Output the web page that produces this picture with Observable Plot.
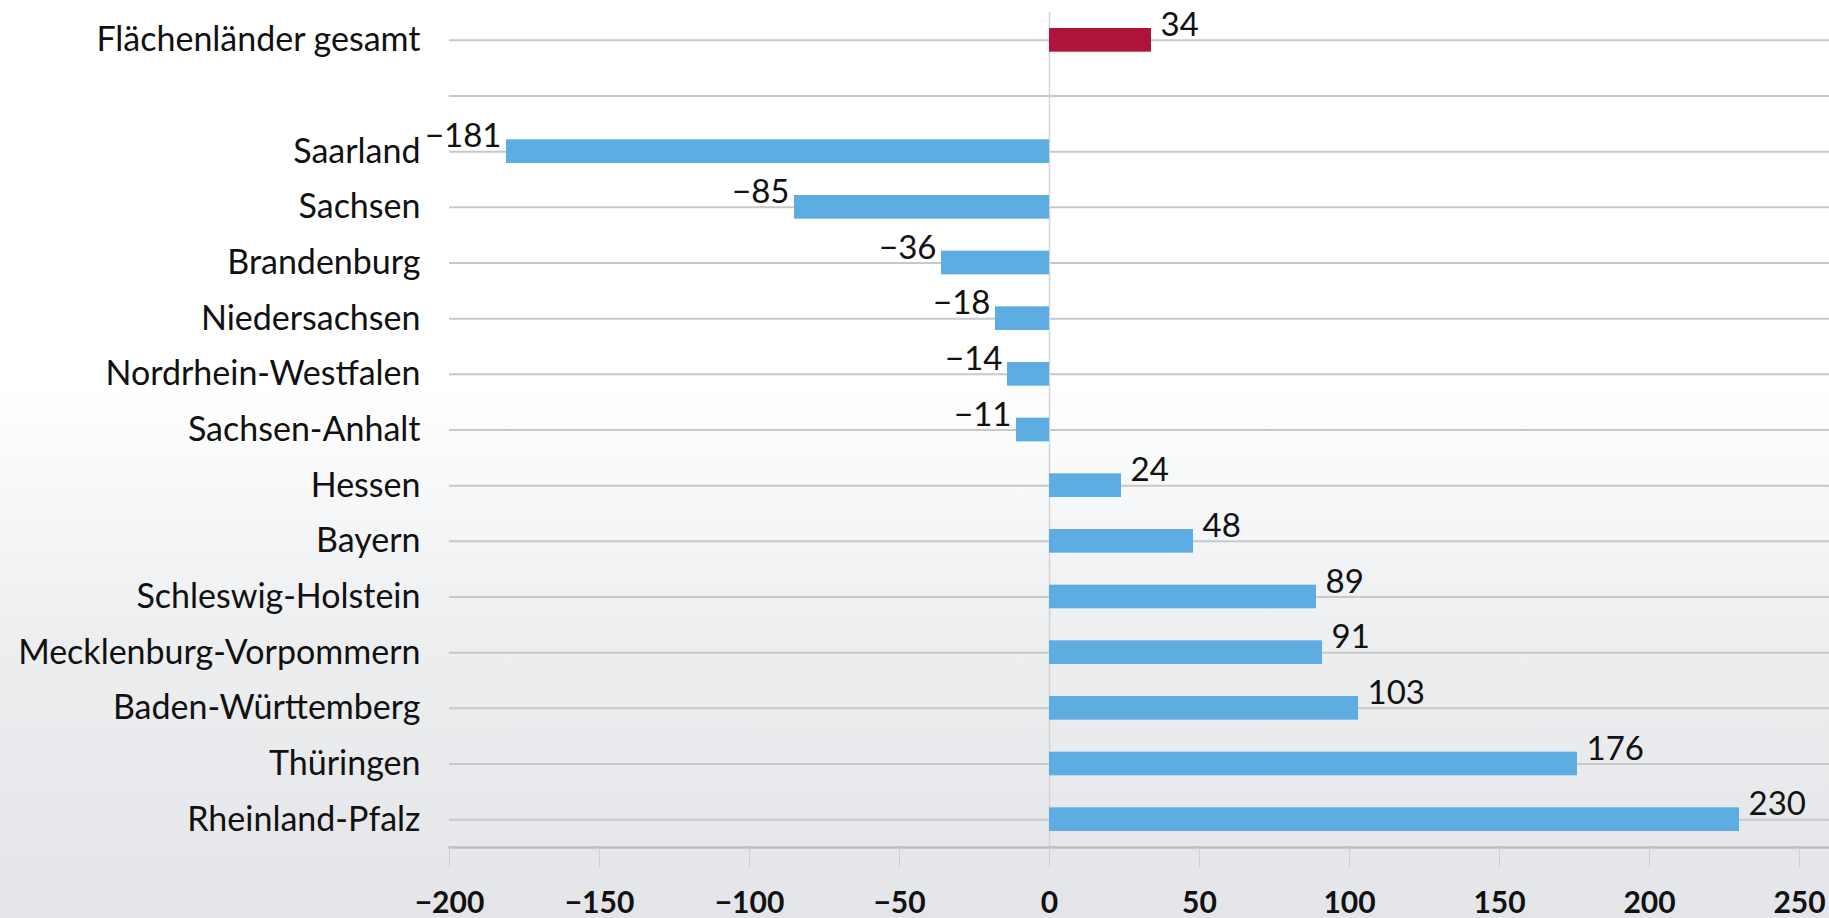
<!DOCTYPE html>
<html>
<head>
<meta charset="utf-8">
<script src="https://cdn.jsdelivr.net/npm/d3@7"></script>
<script src="https://cdn.jsdelivr.net/npm/@observablehq/plot@0.6"></script>
<style>
  html, body { margin: 0; padding: 0; }
  body {
    width: 1829px; height: 918px; overflow: hidden;
    background: linear-gradient(to bottom, #ffffff 0%, #ffffff 42%, #eceef0 70%, #e3e5e8 100%);
    font-family: Lato, sans-serif;
  }
  #chart svg { display: block; }
</style>
</head>
<body>
<div id="chart"></div>
<script>
const totalLabel = "Flächenländer gesamt";
const totalValue = 34;
const gapLabel = " ";
const states = ["Saarland", "Sachsen", "Brandenburg", "Niedersachsen", "Nordrhein-Westfalen", "Sachsen-Anhalt", "Hessen", "Bayern", "Schleswig-Holstein", "Mecklenburg-Vorpommern", "Baden-Württemberg", "Thüringen", "Rheinland-Pfalz"];
const values = [-181, -85, -36, -18, -14, -11, 24, 48, 89, 91, 103, 176, 230];
const xTicks = [-200, -150, -100, -50, 0, 50, 100, 150, 200, 250];

const stateData = states.map((s, i) => ({name: s, value: values[i]}));
const totalData = [{name: totalLabel, value: totalValue}];
const allData = totalData.concat(stateData);
const yDomain = [totalLabel, gapLabel, ...states];

const fmt = v => (v < 0 ? "\u2212" + Math.abs(v) : String(v));

const chart = Plot.plot({
  width: 1829,
  height: 918,
  marginTop: 12,
  marginBottom: 71,
  marginLeft: 449,
  marginRight: 0,
  style: {fontFamily: "Lato, sans-serif", background: "transparent", color: "#111"},
  x: {domain: [-200, 260]},
  y: {domain: yDomain, padding: 0, round: false},
  marks: [
    Plot.gridY(yDomain, {stroke: "#c8c8c8", strokeOpacity: 1, strokeWidth: 2}),
    Plot.ruleX([0], {stroke: "#d4d4d4", strokeWidth: 1.5}),
    Plot.barX(stateData, {y: "name", x: "value", fill: "#5dade2", insetTop: 16, insetBottom: 16}),
    Plot.barX(totalData, {y: "name", x: "value", fill: "#b0133a", insetTop: 16, insetBottom: 16}),
    Plot.text(allData.filter(d => d.value >= 0), {y: "name", x: "value", text: d => fmt(d.value), textAnchor: "start", dx: 9, dy: -15, fontSize: 33, fill: "#111"}),
    Plot.text(allData.filter(d => d.value < 0), {y: "name", x: "value", text: d => fmt(d.value), textAnchor: "end", dx: -5, dy: -15, fontSize: 33, fill: "#111"}),
    Plot.axisY({tickSize: 0, tickPadding: 29, fontSize: 34, tickFormat: d => d, label: null}),
    Plot.frame({anchor: "bottom", stroke: "#bdbdbd", strokeWidth: 2.5}),
    Plot.axisX({ticks: xTicks, tickSize: 21, tickPadding: 23, fontSize: 30, fontWeight: "bold", stroke: "#cfcfcf", tickFormat: fmt, label: null})
  ]
});
document.getElementById("chart").appendChild(chart);
</script>
</body>
</html>
